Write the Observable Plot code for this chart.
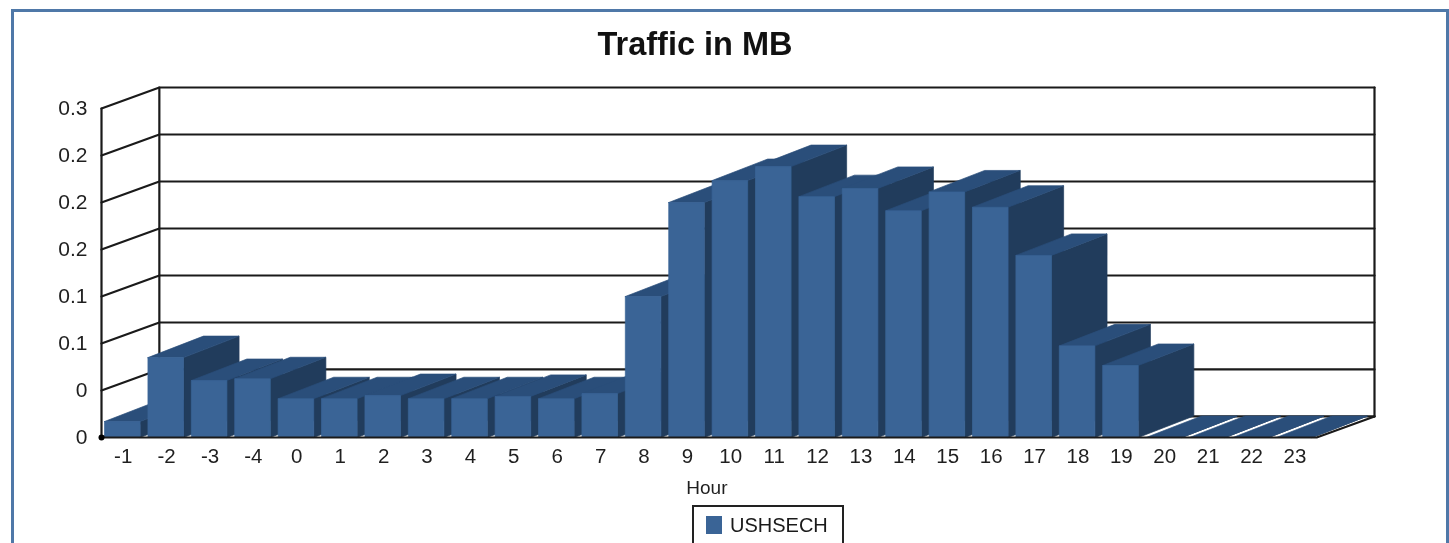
<!DOCTYPE html>
<html>
<head>
<meta charset="utf-8">
<script src="https://cdn.jsdelivr.net/npm/d3@7"></script>
<script src="https://cdn.jsdelivr.net/npm/@observablehq/plot@0.6"></script>
<style>
html,body{margin:0;padding:0;background:#fff;overflow:hidden;width:1449px;height:543px;font-family:"Liberation Sans",Arial,sans-serif;color:#1a1a1a}
#wrap{position:relative;width:1449px;height:543px;overflow:hidden;filter:blur(0.4px)}
#wrap svg{position:absolute;left:0;top:0}
#frame{position:absolute;left:11px;top:9px;right:0;height:700px;border:3px solid #4f78a8;box-sizing:border-box}
#title{position:absolute;left:0;width:1390px;top:25px;text-align:center;font-weight:bold;font-size:32.5px;line-height:38px;color:#111}
#legend{position:absolute;left:692px;top:505px;width:152px;height:80px;border:2px solid #222;box-sizing:border-box;background:#fff}
#legend i{position:absolute;left:12px;top:9px;width:16px;height:18px;background:#3a6496}
#legend span{position:absolute;left:36px;top:6px;font-size:20px;line-height:24px}
</style>
</head>
<body>
<div id="wrap">
<div id="frame"></div>
<div id="title">Traffic in MB</div>
<div id="legend"><i></i><span>USHSECH</span></div>
</div>
<script>
const hours = ["-1","-2","-3","-4","0","1","2","3","4","5","6","7","8","9","10","11","12","13","14","15","16","17","18","19","20","21","22","23"];
const traffic = [0.0136,0.068,0.0485,0.050,0.033,0.033,0.0357,0.033,0.033,0.035,0.033,0.0374,0.12,0.2,0.2187,0.2306,0.205,0.212,0.193,0.209,0.196,0.155,0.078,0.0613,0,0,0,0];
const yTicks = [0,0.04,0.08,0.12,0.16,0.2,0.24,0.28];
const yTickLabels = ["0","0","0.1","0.1","0.2","0.2","0.2","0.3"];

const FRONT = "#3a6496", TOP = "#2a4e7a", SIDE = "#213c5c", INK = "#1a1a1a";

// oblique projection, expressed in data units
const wallDx = 1.333, wallDy = 0.0179;   // axis-box depth
const barDx = 1.28, barDy = 0.0183;      // bar depth
const barInset = 0.07, barWidth = 0.82;  // in category slots
const n = hours.length;
const yMax = yTicks[yTicks.length - 1];

const faces = [];
function face(id, fill, pts) { for (const p of [...pts, pts[0]]) faces.push({id, fill, x:p[0], y:p[1]}); }
traffic.forEach((v, i) => {
  const a = i + barInset, b = a + barWidth;
  face(`s${i}`, SIDE, [[b,0],[b+barDx,barDy],[b+barDx,v+barDy],[b,v]]);
  face(`t${i}`, TOP, [[a,v],[a+barDx,v+barDy],[b+barDx,v+barDy],[b,v]]);
  if (v > 0) face(`f${i}`, FRONT, [[a,0],[a,v],[b,v],[b,0]]);
});

const wallLines = [];
yTicks.forEach((t, i) => {
  wallLines.push({id:`g${i}`, x:0, y:t}, {id:`g${i}`, x:wallDx, y:t+wallDy}, {id:`g${i}`, x:n+wallDx, y:t+wallDy});
});
wallLines.push({id:"back", x:wallDx, y:wallDy}, {id:"back", x:wallDx, y:yMax+wallDy});
wallLines.push({id:"right", x:n+wallDx, y:wallDy}, {id:"right", x:n+wallDx, y:yMax+wallDy});

const frontLines = [
  {id:"axis", x:0, y:yMax}, {id:"axis", x:0, y:0}, {id:"axis", x:n, y:0}, {id:"axis", x:n+wallDx, y:wallDy}
];

const labelFont = {fontFamily:'"Liberation Sans",Arial,sans-serif', fill:"#1f1f1f"};

const chart = Plot.plot({
  width:1449, height:543,
  marginLeft:101, marginRight:75, marginTop:87, marginBottom:106,
  style:{background:"transparent"},
  x:{domain:[0,n+wallDx], axis:null},
  y:{domain:[0,yMax+wallDy], axis:null},
  color:{type:"identity"},
  marks:[
    Plot.line(wallLines, {x:"x", y:"y", z:"id", stroke:INK, strokeWidth:2.2, curve:"linear"}),
    Plot.line(faces, {x:"x", y:"y", z:"id", fill:"fill", stroke:"fill", strokeWidth:0.7, curve:"linear"}),
    Plot.line(frontLines, {x:"x", y:"y", z:"id", stroke:INK, strokeWidth:2.2, curve:"linear"}),
    Plot.dot([0], {x:0, y:0, r:3, fill:"#000"}),
    Plot.text(yTicks, {x:0, y:d=>d, text:(d,i)=>yTickLabels[i], textAnchor:"end", dx:-14, fontSize:21, ...labelFont}),
    Plot.text(hours, {x:(d,i)=>i+0.5, y:0, text:d=>d, dy:19, fontSize:20.5, ...labelFont}),
    Plot.text(["Hour"], {x:13.95, y:0, text:d=>d, dy:50, fontSize:19, ...labelFont})
  ]
});
document.getElementById("wrap").prepend(chart);
</script>
</body>
</html>
